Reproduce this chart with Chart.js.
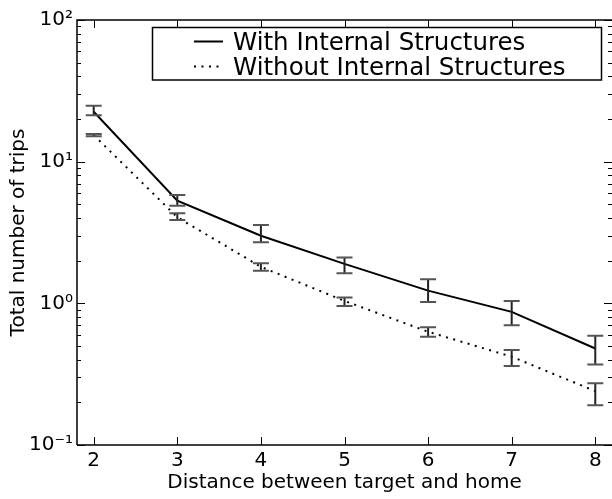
<!DOCTYPE html>
<html>
<head>
<meta charset="utf-8">
<script src="https://cdn.jsdelivr.net/npm/chart.js@4.4.1/dist/chart.umd.min.js"></script>
<style>
  html, body { margin: 0; padding: 0; background: #ffffff; }
  #wrap { width: 612px; height: 499px; }
</style>
</head>
<body>
<div id="wrap"><canvas id="c" width="612" height="499"></canvas></div>
<script>
// ---- data ----
const distances = [2, 3, 4, 5, 6, 7, 8];
const withMean  = [22.5, 5.30, 3.00, 1.90, 1.23, 0.87, 0.48];
const withLow   = [21.3, 4.89, 2.70, 1.63, 1.02, 0.70, 0.37];
const withHigh  = [24.8, 5.82, 3.57, 2.11, 1.48, 1.04, 0.59];
const withoutMean = [15.4, 4.05, 1.81, 1.04, 0.63, 0.42, 0.24];
const withoutLow  = [15.1, 3.87, 1.70, 0.957, 0.582, 0.361, 0.191];
const withoutHigh = [15.7, 4.32, 1.92, 1.10, 0.678, 0.469, 0.273];
const seriesLabels = ['With Internal Structures', 'Without Internal Structures'];
const yTickLabels = { '0.1': '10\u207B\u00B9', '1': '10\u2070', '10': '10\u00B9', '100': '10\u00B2' };
const xTitle = 'Distance between target and home';
const yTitle = 'Total number of trips';

const FONT = "'DejaVu Sans', 'Bitstream Vera Sans', sans-serif";

const toPts = (ys) => distances.map((x, i) => ({ x: x, y: ys[i] }));

const errorBars = [
  { low: withLow, high: withHigh },
  { low: withoutLow, high: withoutHigh }
];

const decorPlugin = {
  id: 'decor',
  afterDatasetsDraw(chart) {
    const ctx = chart.ctx;
    const xs = chart.scales.x, ys = chart.scales.y;
    const a = chart.chartArea;
    ctx.save();
    // error bars
    errorBars.forEach((eb) => {
      distances.forEach((d, i) => {
        const px = xs.getPixelForValue(d);
        const pl = ys.getPixelForValue(eb.low[i]);
        const ph = ys.getPixelForValue(eb.high[i]);
        ctx.strokeStyle = '#222';
        ctx.lineWidth = 2;
        ctx.beginPath(); ctx.moveTo(px, pl); ctx.lineTo(px, ph); ctx.stroke();
        ctx.strokeStyle = '#555';
        ctx.lineWidth = 2;
        ctx.beginPath();
        ctx.moveTo(px - 8, pl); ctx.lineTo(px + 8, pl);
        ctx.moveTo(px - 8, ph); ctx.lineTo(px + 8, ph);
        ctx.stroke();
      });
    });
    // frame (right edge lies just outside the picture)
    ctx.strokeStyle = '#000';
    ctx.lineWidth = 1.5;
    ctx.beginPath();
    ctx.moveTo(a.left, a.bottom); ctx.lineTo(a.left, a.top); ctx.lineTo(a.right + 2, a.top);
    ctx.moveTo(a.left, a.bottom); ctx.lineTo(a.right + 2, a.bottom);
    ctx.stroke();
    // inward ticks
    ctx.lineWidth = 1;
    ctx.beginPath();
    xs.ticks.forEach((t) => {
      const px = Math.round(xs.getPixelForValue(t.value)) + 0.5;
      ctx.moveTo(px, a.bottom); ctx.lineTo(px, a.bottom - 8);
      ctx.moveTo(px, a.top); ctx.lineTo(px, a.top + 8);
    });
    ys.ticks.forEach((t) => {
      const py = Math.round(ys.getPixelForValue(t.value)) + 0.5;
      const major = Math.abs(Math.log10(t.value) - Math.round(Math.log10(t.value))) < 1e-9;
      const len = major ? 8 : 4;
      ctx.moveTo(a.left, py); ctx.lineTo(a.left + len, py);
      ctx.moveTo(a.right, py); ctx.lineTo(a.right - len, py);
    });
    ctx.stroke();
    // legend
    const lx = 152.5, ly = 27.5, lw = 449, lh = 52.5;
    ctx.fillStyle = '#fff';
    ctx.fillRect(lx, ly, lw, lh);
    ctx.strokeStyle = '#000';
    ctx.lineWidth = 1.5;
    ctx.strokeRect(lx, ly, lw, lh);
    ctx.font = '24.5px ' + FONT;
    ctx.fillStyle = '#000';
    ctx.textBaseline = 'alphabetic';
    ctx.textAlign = 'left';
    chart.data.datasets.forEach((ds, i) => {
      const yy = 41.5 + i * 25;
      ctx.strokeStyle = ds.borderColor;
      ctx.lineWidth = ds.borderWidth;
      ctx.setLineDash(ds.borderDash || []);
      ctx.beginPath(); ctx.moveTo(194, yy); ctx.lineTo(223, yy); ctx.stroke();
      ctx.setLineDash([]);
      ctx.fillText(ds.label, 233, 49.5 + i * 25);
    });
    ctx.restore();
  }
};

new Chart(document.getElementById('c'), {
  type: 'line',
  data: {
    datasets: [
      { label: seriesLabels[0], data: toPts(withMean), borderColor: '#000', borderWidth: 2,
        pointRadius: 0, fill: false, tension: 0 },
      { label: seriesLabels[1], data: toPts(withoutMean), borderColor: '#000', borderWidth: 2,
        borderDash: [2, 5.5], pointRadius: 0, fill: false, tension: 0 }
    ]
  },
  options: {
    responsive: false,
    devicePixelRatio: 1,
    animation: false,
    layout: { padding: { top: 20, right: 0, left: 0, bottom: 0 } },
    plugins: { legend: { display: false }, tooltip: { enabled: false } },
    scales: {
      x: {
        type: 'linear', min: 1.8, max: 8.2,
        afterBuildTicks(s) { s.ticks = distances.map(v => ({ value: v })); },
        afterFit(s) { s.height = 54; },
        grid: { display: false, drawTicks: false },
        border: { display: false },
        ticks: { color: '#000', font: { family: FONT, size: 20 }, padding: 4, maxRotation: 0,
                 callback: (v) => String(v) },
        title: { display: true, text: xTitle, color: '#000', font: { family: FONT, size: 20 },
                 padding: { top: 0, bottom: 4 } }
      },
      y: {
        type: 'logarithmic', min: 0.1, max: 100,
        afterBuildTicks(s) {
          const t = [];
          for (let e = -1; e <= 1; e++) {
            for (let m = 1; m <= 9; m++) t.push({ value: m * Math.pow(10, e) });
          }
          t.push({ value: 100 });
          s.ticks = t;
        },
        afterFit(s) { s.width = 77; },
        grid: { display: false, drawTicks: false },
        border: { display: false },
        ticks: { color: '#000', font: { family: FONT, size: 20 }, padding: 4, autoSkip: false,
                 callback: (v) => yTickLabels[String(Number(v.toPrecision(6)))] || '' },
        title: { display: true, text: yTitle, color: '#000', font: { family: FONT, size: 20 },
                 padding: { top: 7, bottom: 0 } }
      }
    }
  },
  plugins: [decorPlugin]
});
</script>
</body>
</html>
